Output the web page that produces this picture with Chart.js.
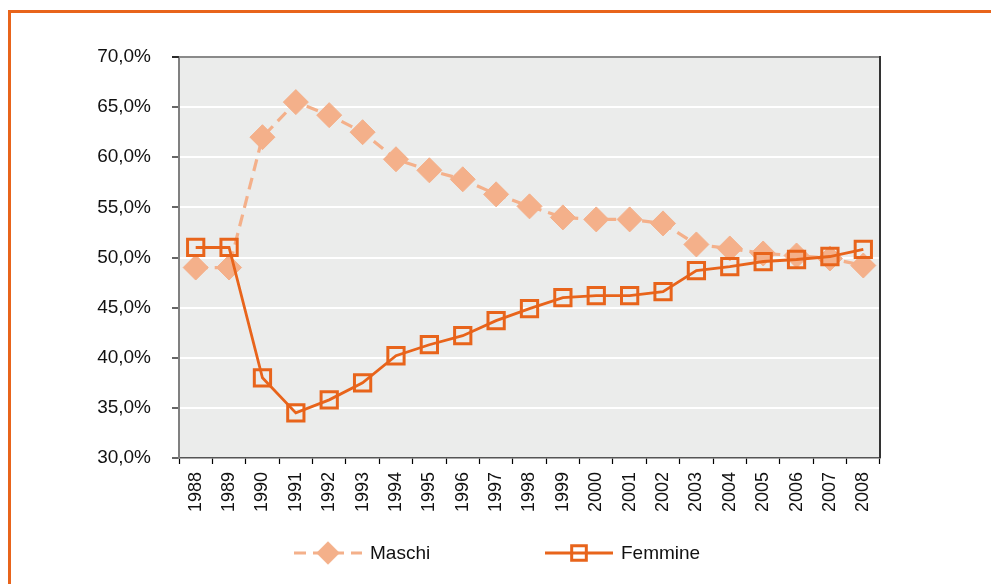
<!DOCTYPE html>
<html>
<head>
<meta charset="utf-8">
<script src="https://cdn.jsdelivr.net/npm/chart.js@4.4.1/dist/chart.umd.min.js"></script>
<style>
  html, body { margin: 0; padding: 0; background: #fff; overflow: hidden; }
  #wrap { width: 991px; height: 584px; }
</style>
</head>
<body>
<div id="wrap"><canvas id="chart" width="991" height="584"></canvas></div>
<script>
// data
const years = ['1988', '1989', '1990', '1991', '1992', '1993', '1994', '1995', '1996', '1997',
  '1998', '1999', '2000', '2001', '2002', '2003', '2004', '2005', '2006', '2007', '2008'];
const maschi = [49.0, 49.0, 62.0, 65.5, 64.2, 62.5, 59.8, 58.7, 57.8, 56.3,
  55.1, 54.0, 53.8, 53.8, 53.4, 51.3, 50.9, 50.4, 50.2, 49.9, 49.2];
const femmine = [51.0, 51.0, 38.0, 34.5, 35.8, 37.5, 40.2, 41.3, 42.2, 43.7,
  44.9, 46.0, 46.2, 46.2, 46.6, 48.7, 49.1, 49.6, 49.8, 50.1, 50.8];
const yMin = 30, yMax = 70, yStep = 5;

const FONT = "'Liberation Sans', Arial, Helvetica, sans-serif";
const ORANGE = '#E8641B';
const PEACH = '#F4B08A';
const TEXT = '#111';

function fmtPct(v) {
  return v.toFixed(1).replace('.', ',') + '%';
}

// orange frame + grey plot background
const frame = {
  id: 'frame',
  beforeDraw(chart) {
    const { ctx, chartArea: a } = chart;
    ctx.save();
    ctx.fillStyle = ORANGE;
    ctx.fillRect(8, 10, chart.width - 8, 3);
    ctx.fillRect(8, 10, 3, chart.height - 10);
    ctx.fillStyle = '#EBECEB';
    ctx.fillRect(a.left, a.top, a.right - a.left, a.bottom - a.top);
    ctx.restore();
  },
  beforeDatasetsDraw(chart) {
    const { ctx, chartArea: a } = chart;
    ctx.save();
    ctx.lineWidth = 2;
    ctx.strokeStyle = '#8a8a8a';
    ctx.beginPath();
    ctx.moveTo(a.left, a.top);
    ctx.lineTo(a.right, a.top);
    ctx.stroke();
    ctx.strokeStyle = '#333';
    ctx.beginPath();
    ctx.moveTo(a.right, a.top - 1);
    ctx.lineTo(a.right, a.bottom);
    ctx.stroke();
    // top tick at 70%
    ctx.lineWidth = 1.2;
    ctx.strokeStyle = '#000';
    ctx.beginPath();
    ctx.moveTo(a.left - 7, a.top);
    ctx.lineTo(a.left, a.top);
    ctx.stroke();
    ctx.restore();
  }
};

// legend drawn as line + marker samples, like the original
const lineLegend = {
  id: 'lineLegend',
  afterDraw(chart, args, opts) {
    const { ctx } = chart;
    const order = [0, 1];
    let x = opts.x;
    ctx.save();
    ctx.font = opts.fontSize + 'px ' + FONT;
    ctx.textBaseline = 'middle';
    order.forEach((i, k) => {
      const ds = chart.data.datasets[i];
      const y = opts.y;
      ctx.strokeStyle = ds.borderColor;
      ctx.lineWidth = ds.borderWidth;
      ctx.setLineDash(ds.borderDash || []);
      ctx.beginPath();
      ctx.moveTo(x, y);
      ctx.lineTo(x + opts.sample, y);
      ctx.stroke();
      ctx.setLineDash([]);
      ctx.fillStyle = ds.pointBackgroundColor;
      ctx.strokeStyle = ds.pointBorderColor;
      ctx.lineWidth = ds.pointBorderWidth;
      Chart.helpers.drawPoint(ctx, {
        pointStyle: ds.pointStyle,
        radius: ds.pointRadius * opts.markerScale,
        rotation: 0,
        borderWidth: ds.pointBorderWidth
      }, x + opts.sample / 2, y);
      ctx.fillStyle = TEXT;
      ctx.fillText(ds.label, x + opts.sample + opts.textGap, y + 1);
      x += opts.itemStep[k];
    });
    ctx.restore();
  }
};

const ctx = document.getElementById('chart');
new Chart(ctx, {
  type: 'line',
  data: {
    labels: years,
    datasets: [
      {
        label: 'Maschi',
        data: maschi,
        borderColor: PEACH,
        borderWidth: 3.2,
        borderDash: [12, 7],
        pointStyle: 'rectRot',
        pointRadius: 12.5,
        pointBackgroundColor: PEACH,
        pointBorderColor: PEACH,
        pointBorderWidth: 1,
        tension: 0,
        order: 1
      },
      {
        label: 'Femmine',
        data: femmine,
        borderColor: ORANGE,
        borderWidth: 2.8,
        pointStyle: 'rect',
        pointRadius: 11.5,
        pointBackgroundColor: 'rgba(0,0,0,0)',
        pointBorderColor: ORANGE,
        pointBorderWidth: 3,
        tension: 0,
        order: 0
      }
    ]
  },
  options: {
    responsive: false,
    animation: false,
    layout: { padding: { top: 57, right: 111, bottom: 0, left: 0 } },
    plugins: {
      legend: { display: false },
      tooltip: { enabled: false },
      lineLegend: { x: 294, y: 553, sample: 68, textGap: 8, fontSize: 19, markerScale: 0.9, itemStep: [251, 0] }
    },
    scales: {
      x: {
        offset: true,
        grid: {
          offset: true,
          drawOnChartArea: false,
          tickLength: 6,
          tickColor: '#000',
          tickWidth: 1.2
        },
        border: { display: true, color: '#555', width: 1.5 },
        ticks: {
          autoSkip: false,
          minRotation: 90,
          maxRotation: 90,
          padding: 8,
          color: TEXT,
          font: { family: FONT, size: 18 }
        },
        afterFit(scale) { scale.height = 126; }
      },
      y: {
        min: yMin,
        max: yMax,
        grid: {
          color: (c) => (c.tick && c.tick.value > yMin && c.tick.value < yMax) ? '#ffffff' : 'rgba(0,0,0,0)',
          lineWidth: 2,
          tickLength: 7,
          tickColor: '#000',
          tickWidth: 1.2
        },
        border: { display: true, color: '#808080', width: 2 },
        ticks: {
          stepSize: yStep,
          padding: 21,
          color: TEXT,
          font: { family: FONT, size: 19 },
          callback: (v) => fmtPct(v)
        },
        afterFit(scale) { scale.width = 179; }
      }
    }
  },
  plugins: [frame, lineLegend]
});
</script>
</body>
</html>
